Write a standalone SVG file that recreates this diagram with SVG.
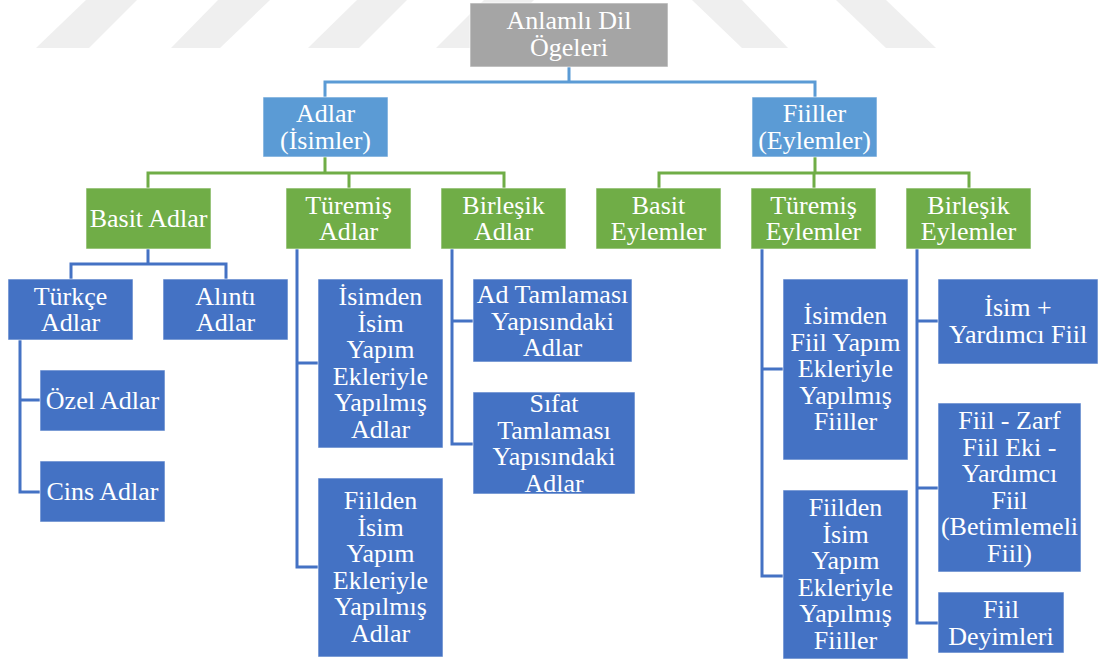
<svg xmlns="http://www.w3.org/2000/svg" width="1107" height="660" viewBox="0 0 1107 660">
<style>
.wm{fill:#efefef}
.box rect{stroke:#ffffff;stroke-opacity:0.6;stroke-width:1}
.gray{fill:#a5a5a5}
.lb{fill:#5b9bd5}
.gr{fill:#70ad47}
.db{fill:#4472c4}
.t{font-family:'Liberation Serif','Times New Roman','DejaVu Serif',Times,serif;font-size:26px;fill:#ffffff;text-anchor:middle}
.c{fill:none;stroke-width:3;stroke-linejoin:miter}
.c1{stroke:#5b9bd5}
.c2{stroke:#70ad47}
.c3{stroke:#4472c4}
</style>
<g id="watermark">
<polygon class="wm" points="36,48 89,48 137,0 86,0"/>
<polygon class="wm" points="171,48 220,48 270,0 218,0"/>
<polygon class="wm" points="308,48 359,48 407,0 357,0"/>
<polygon class="wm" points="436,48 486,48 534,0 484,0"/>
<polygon class="wm" points="692,0 742,0 788,48 742,48"/>
<polygon class="wm" points="836,0 886,0 936,48 886,48"/>
</g>
<g id="connectors">
<path class="c c1" d="M569,67 V82 M325,97 V82 H815 V97"/>
<path class="c c2" d="M325,157 V173 M148,188 V173 H504 V188 M349,173 V188"/>
<path class="c c2" d="M815,157 V173 M659,188 V173 H969 V188 M814,173 V188"/>
<path class="c c3" d="M148,249 V264 M71,279 V264 H226 V279"/>
<path class="c c3" d="M20,340 V492 H40 M20,400 H40"/>
<path class="c c3" d="M297,249 V567 H318 M297,363 H318"/>
<path class="c c3" d="M452,249 V444 H473 M452,321 H473"/>
<path class="c c3" d="M762,249 V576 H783 M762,369 H783"/>
<path class="c c3" d="M917,249 V623 H938 M917,321 H938 M917,488 H938"/>
</g>
<g id="n-root" class="box"><rect class="gray" x="470" y="3" width="198" height="64"/><text class="t" font-family="Liberation Serif, serif"><tspan x="569" y="29">Anlamlı Dil</tspan><tspan x="569" y="56">Ögeleri</tspan></text></g>
<g id="n-adlar" class="box"><rect class="lb" x="263" y="97" width="125" height="60"/><text class="t"><tspan x="325.5" y="122">Adlar</tspan><tspan x="325.5" y="148.5">(İsimler)</tspan></text></g>
<g id="n-fiiller" class="box"><rect class="lb" x="752" y="97" width="125" height="60"/><text class="t"><tspan x="814.5" y="122">Fiiller</tspan><tspan x="814.5" y="148.5">(Eylemler)</tspan></text></g>
<g id="n-basit-adlar" class="box"><rect class="gr" x="86" y="188" width="125" height="61"/><text class="t"><tspan x="148.5" y="227">Basit Adlar</tspan></text></g>
<g id="n-turemis-adlar" class="box"><rect class="gr" x="286" y="188" width="125" height="61"/><text class="t"><tspan x="348.5" y="213.5">Türemiş</tspan><tspan x="348.5" y="240">Adlar</tspan></text></g>
<g id="n-birlesik-adlar" class="box"><rect class="gr" x="441" y="188" width="125" height="61"/><text class="t"><tspan x="503.5" y="213.5">Birleşik</tspan><tspan x="503.5" y="240">Adlar</tspan></text></g>
<g id="n-basit-eylemler" class="box"><rect class="gr" x="596" y="188" width="125" height="61"/><text class="t"><tspan x="658.5" y="213.5">Basit</tspan><tspan x="658.5" y="240">Eylemler</tspan></text></g>
<g id="n-turemis-eylemler" class="box"><rect class="gr" x="751" y="188" width="125" height="61"/><text class="t"><tspan x="813.5" y="213.5">Türemiş</tspan><tspan x="813.5" y="240">Eylemler</tspan></text></g>
<g id="n-birlesik-eylemler" class="box"><rect class="gr" x="906" y="188" width="125" height="61"/><text class="t"><tspan x="968.5" y="213.5">Birleşik</tspan><tspan x="968.5" y="240">Eylemler</tspan></text></g>
<g id="n-turkce-adlar" class="box"><rect class="db" x="8" y="279" width="125" height="61"/><text class="t"><tspan x="70.5" y="304.5">Türkçe</tspan><tspan x="70.5" y="331">Adlar</tspan></text></g>
<g id="n-alinti-adlar" class="box"><rect class="db" x="163" y="279" width="125" height="61"/><text class="t"><tspan x="225.5" y="304.5">Alıntı</tspan><tspan x="225.5" y="331">Adlar</tspan></text></g>
<g id="n-ozel-adlar" class="box"><rect class="db" x="40" y="370" width="125" height="61"/><text class="t"><tspan x="102.5" y="409">Özel Adlar</tspan></text></g>
<g id="n-cins-adlar" class="box"><rect class="db" x="40" y="461" width="125" height="61"/><text class="t"><tspan x="102.5" y="500">Cins Adlar</tspan></text></g>
<g id="n-isimden-isim" class="box"><rect class="db" x="318" y="279" width="125" height="169"/><text class="t"><tspan x="380.5" y="305">İsimden</tspan><tspan x="380.5" y="331.5">İsim</tspan><tspan x="380.5" y="358">Yapım</tspan><tspan x="380.5" y="384.5">Ekleriyle</tspan><tspan x="380.5" y="411">Yapılmış</tspan><tspan x="380.5" y="437.5">Adlar</tspan></text></g>
<g id="n-fiilden-isim-adlar" class="box"><rect class="db" x="318" y="478" width="125" height="179"/><text class="t"><tspan x="380.5" y="509">Fiilden</tspan><tspan x="380.5" y="535.5">İsim</tspan><tspan x="380.5" y="562">Yapım</tspan><tspan x="380.5" y="588.5">Ekleriyle</tspan><tspan x="380.5" y="615">Yapılmış</tspan><tspan x="380.5" y="641.5">Adlar</tspan></text></g>
<g id="n-ad-tamlamasi" class="box"><rect class="db" x="473" y="279" width="159" height="83"/><text class="t"><tspan x="552.5" y="303">Ad Tamlaması</tspan><tspan x="552.5" y="329.5">Yapısındaki</tspan><tspan x="552.5" y="356">Adlar</tspan></text></g>
<g id="n-sifat-tamlamasi" class="box"><rect class="db" x="473" y="392" width="162" height="102"/><text class="t"><tspan x="554" y="412">Sıfat</tspan><tspan x="554" y="438.5">Tamlaması</tspan><tspan x="554" y="465">Yapısındaki</tspan><tspan x="554" y="491.5">Adlar</tspan></text></g>
<g id="n-isimden-fiil" class="box"><rect class="db" x="783" y="279" width="125" height="181"/><text class="t"><tspan x="845.5" y="324">İsimden</tspan><tspan x="845.5" y="350.5">Fiil Yapım</tspan><tspan x="845.5" y="377">Ekleriyle</tspan><tspan x="845.5" y="403.5">Yapılmış</tspan><tspan x="845.5" y="430">Fiiller</tspan></text></g>
<g id="n-fiilden-isim-fiiller" class="box"><rect class="db" x="783" y="490" width="125" height="169"/><text class="t"><tspan x="845.5" y="516">Fiilden</tspan><tspan x="845.5" y="542.5">İsim</tspan><tspan x="845.5" y="569">Yapım</tspan><tspan x="845.5" y="595.5">Ekleriyle</tspan><tspan x="845.5" y="622">Yapılmış</tspan><tspan x="845.5" y="648.5">Fiiller</tspan></text></g>
<g id="n-isim-yardimci" class="box"><rect class="db" x="938" y="279" width="160" height="85"/><text class="t"><tspan x="1018" y="316">İsim +</tspan><tspan x="1018" y="342.5">Yardımcı Fiil</tspan></text></g>
<g id="n-fiil-zarf" class="box"><rect class="db" x="938" y="403" width="143" height="169"/><text class="t"><tspan x="1009.5" y="429">Fiil - Zarf</tspan><tspan x="1009.5" y="455.5">Fiil Eki -</tspan><tspan x="1009.5" y="482">Yardımcı</tspan><tspan x="1009.5" y="508.5">Fiil</tspan><tspan x="1009.5" y="535">(Betimlemeli</tspan><tspan x="1009.5" y="561.5">Fiil)</tspan></text></g>
<g id="n-fiil-deyimleri" class="box"><rect class="db" x="938" y="592" width="126" height="61"/><text class="t"><tspan x="1001" y="618">Fiil</tspan><tspan x="1001" y="644.5">Deyimleri</tspan></text></g>
</svg>
